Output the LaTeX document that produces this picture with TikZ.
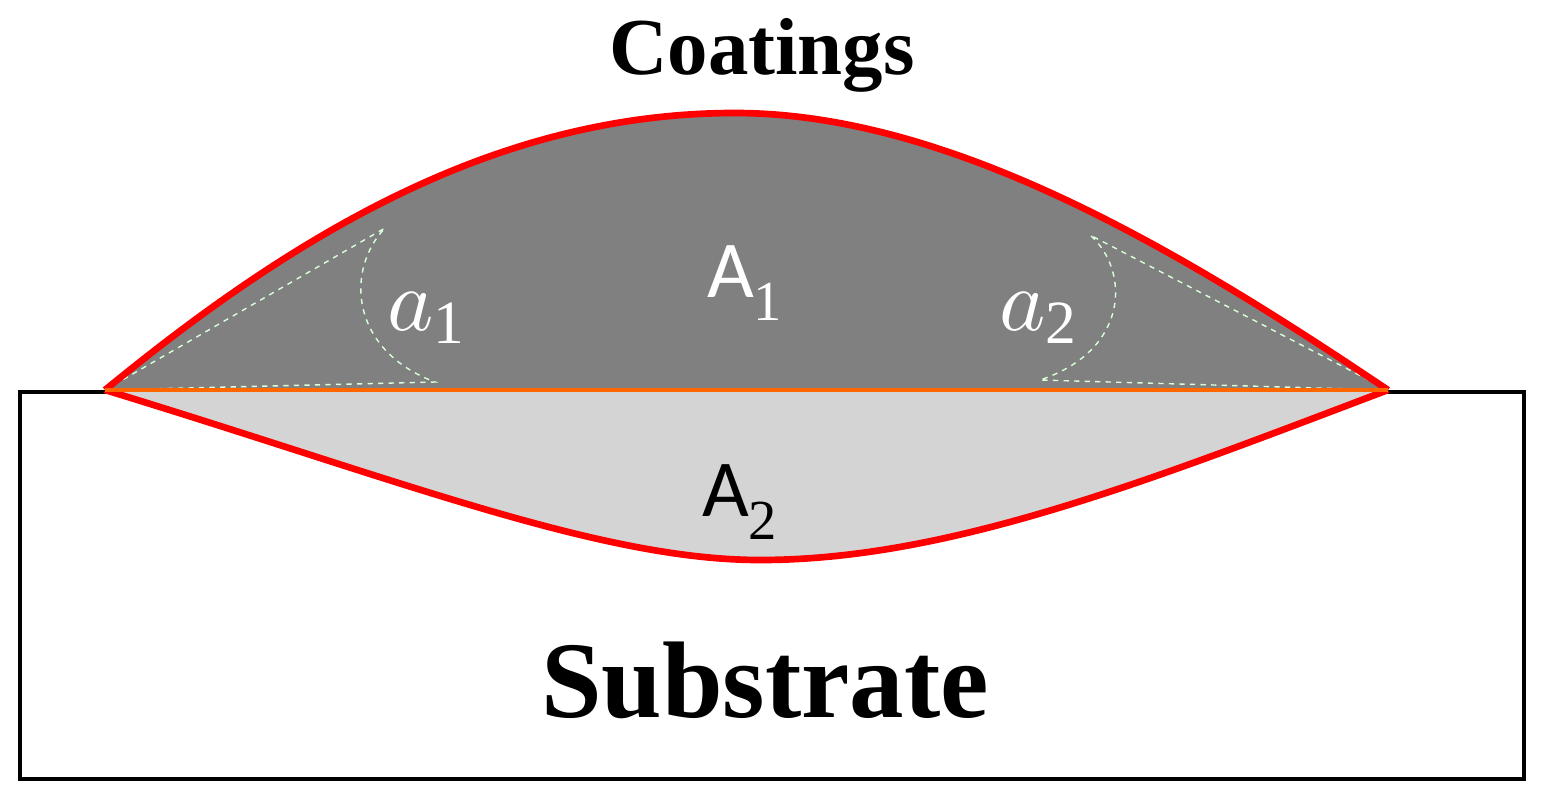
\documentclass[tikz,border=0pt]{standalone}
\usepackage{fontspec}
\setmainfont{Liberation Serif}
\newfontfamily\calfnt{Carlito}
\begin{document}
\begin{tikzpicture}[x=0.02cm,y=-0.02cm,
  dsh/.style={draw=white!85!green,dashed,line width=0.8pt},
  lbl/.style={font=\calfnt\fontsize{46}{50}\selectfont},
  grk/.style={white,scale=5}]
\useasboundingbox (0,0) rectangle (1546,806);
\node[draw,line width=2.2pt,minimum width=1504*0.02cm,minimum height=387*0.02cm,anchor=north west,inner sep=0] (sub) at (18,390) {};
\coordinate (L) at (105,390); \coordinate (R) at (1388,390);
\fill[black!17] (L) .. controls (400,480) and (600,560) .. (760,560) .. controls (950,560) and (1150,480) .. (R) -- cycle;
\fill[black!50] (L) .. controls (300,230) and (500,113) .. (735,113) .. controls (950,113) and (1180,250) .. (R) -- cycle;
\draw[dsh] (L) -- (385,228) .. controls (345,270) and (350,350) .. (435,382) -- (L);
\draw[dsh] (R) -- (1090,235) .. controls (1130,270) and (1130,350) .. (1040,380) -- (R);
\draw[red,line width=3.8pt] (L) .. controls (300,230) and (500,113) .. (735,113) .. controls (950,113) and (1180,250) .. (R);
\draw[red,line width=3.8pt] (L) .. controls (400,480) and (600,560) .. (760,560) .. controls (950,560) and (1150,480) .. (R);
\draw[orange!80!red,line width=2.8pt] (L) -- (R);
\node[font=\bfseries\fontsize{46}{50}\selectfont] (c) at (762,55) {Coatings};
\node[font=\bfseries\fontsize{62}{66}\selectfont] (s) at (765,680) {Substrate};
\node[lbl,white] (a1) at (745,283) {A$_{\mathrm{1}}$};
\node[lbl] (a2) at (740,502) {A$_{\mathrm{2}}$};
\node[grk] (g1) at (428,318) {$a_{\mathrm{1}}$};
\node[grk] (g2) at (1040,318) {$a_{\mathrm{2}}$};
\end{tikzpicture}
\end{document}
